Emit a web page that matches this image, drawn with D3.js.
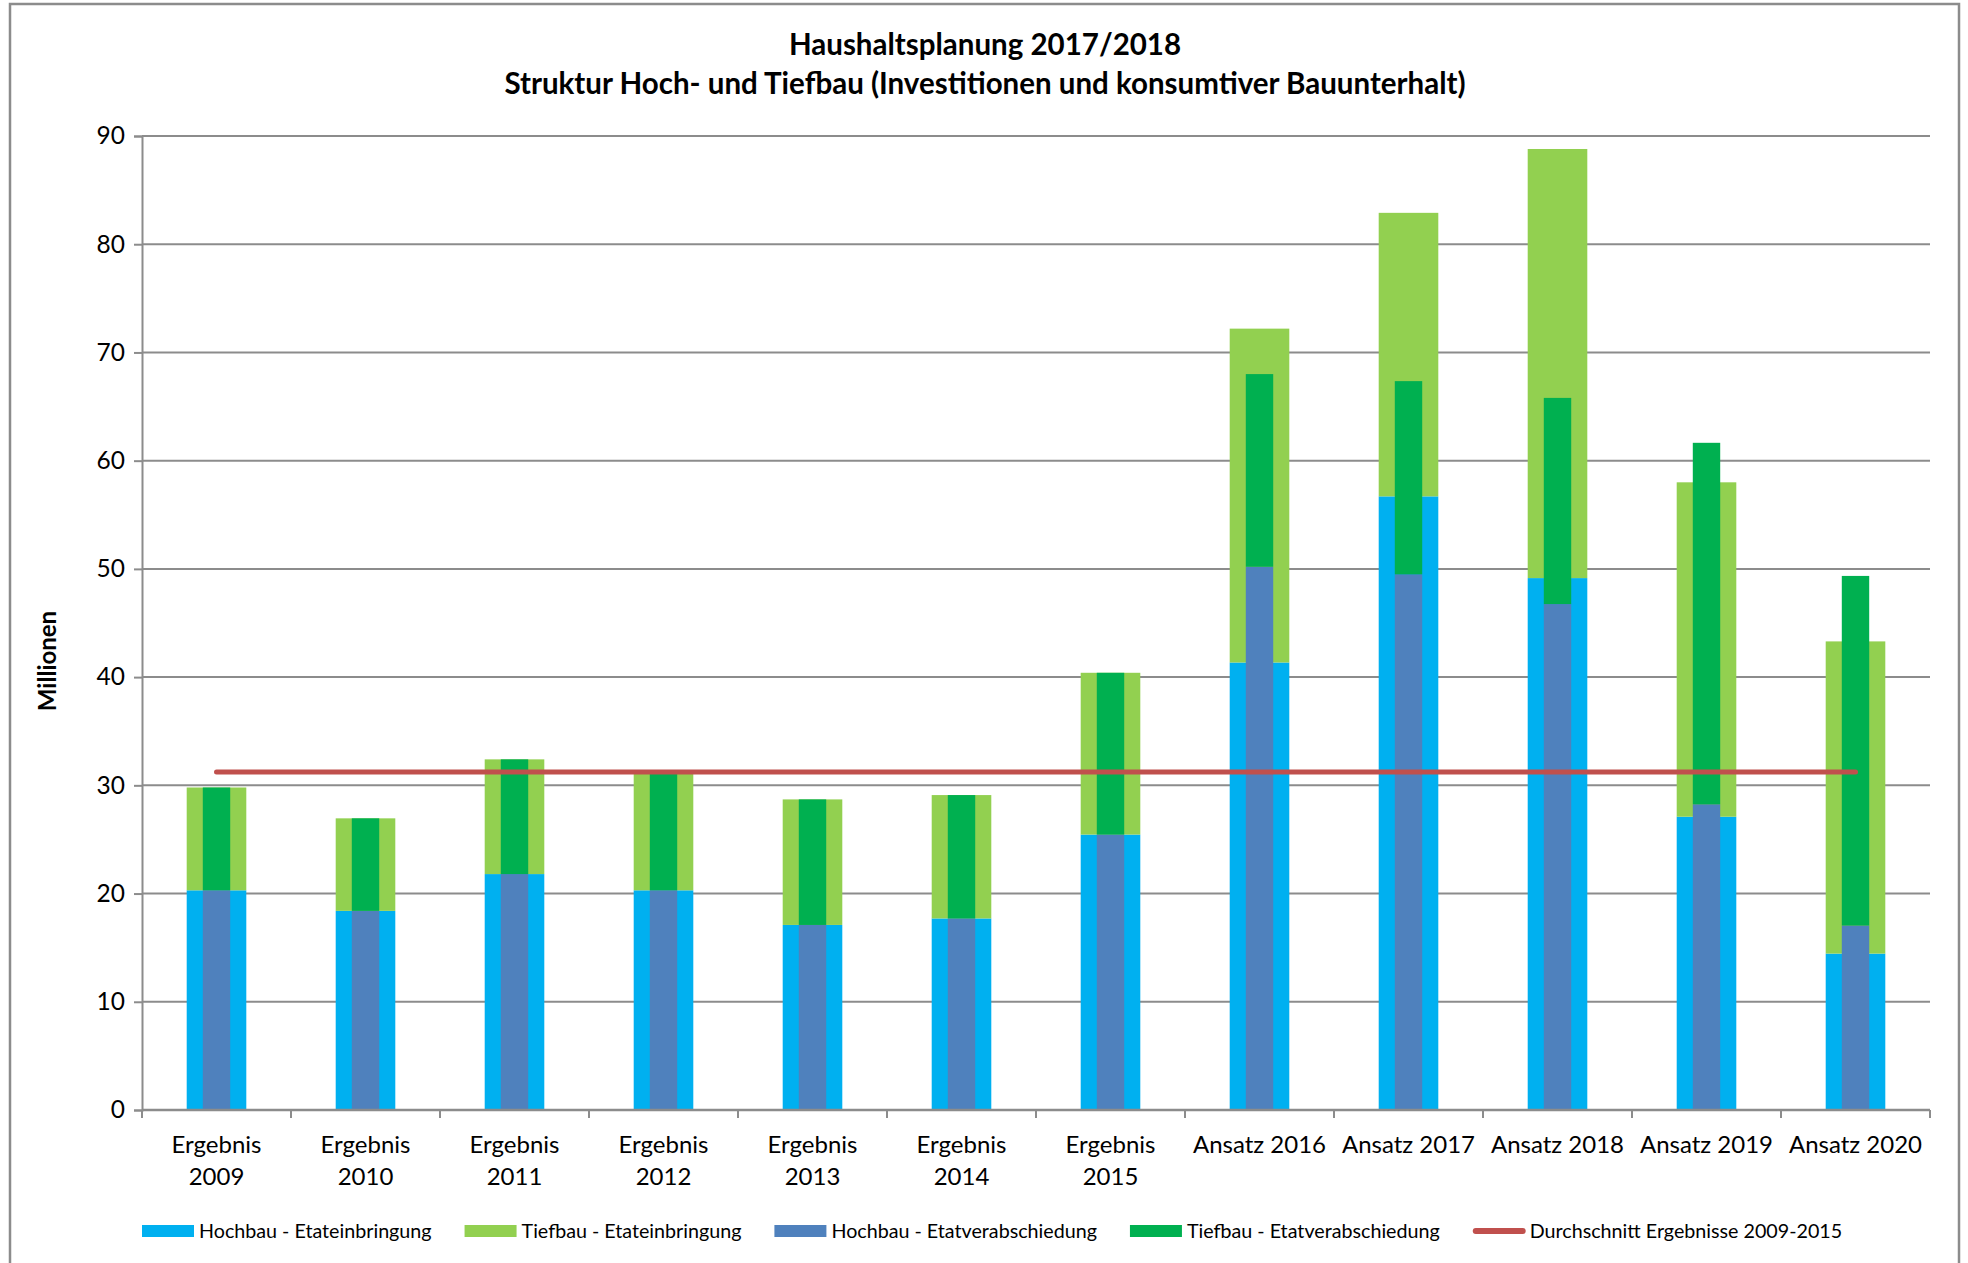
<!DOCTYPE html>
<html>
<head>
<meta charset="utf-8">
<script src="https://cdn.jsdelivr.net/npm/d3@7"></script>
<style>
  body { margin: 0; background: #fff; }
  svg { display: block; font-family: Lato, "Open Sans", sans-serif; }
</style>
</head>
<body>
<div id="chart"></div>
<script>
// categories (two-line labels use "\n")
const categories = ["Ergebnis\n2009", "Ergebnis\n2010", "Ergebnis\n2011", "Ergebnis\n2012",
  "Ergebnis\n2013", "Ergebnis\n2014", "Ergebnis\n2015", "Ansatz 2016", "Ansatz 2017",
  "Ansatz 2018", "Ansatz 2019", "Ansatz 2020"];

// Millionen
const hochbauEinbringung = [20.3, 18.4, 21.8, 20.3, 17.1, 17.7, 25.45, 41.35, 56.7, 49.15, 27.1, 14.45];
const tiefbauEinbringung = [9.5, 8.55, 10.6, 10.8, 11.6, 11.4, 14.95, 30.85, 26.2, 39.65, 30.9, 28.85];
const hochbauVerabschiedung = [20.3, 18.4, 21.8, 20.3, 17.1, 17.7, 25.45, 50.2, 49.5, 46.75, 28.25, 17.05];
const tiefbauVerabschiedung = [9.5, 8.55, 10.6, 10.8, 11.6, 11.4, 14.95, 17.8, 17.85, 19.05, 33.4, 32.3];
const durchschnitt = 31.23;

const yTicks = [0, 10, 20, 30, 40, 50, 60, 70, 80, 90];
const legendLabels = ["Hochbau - Etateinbringung", "Tiefbau - Etateinbringung",
  "Hochbau - Etatverabschiedung", "Tiefbau - Etatverabschiedung", "Durchschnitt Ergebnisse 2009-2015"];
const colors = ["#00B0F0", "#92D050", "#4F81BD", "#00B050", "#C0504D"];

const width = 1968, height = 1263;
const svg = d3.select("#chart").append("svg")
    .attr("width", width)
    .attr("height", height);

// outer frame
svg.append("rect")
    .attr("x", 10).attr("y", 4)
    .attr("width", 1949).attr("height", 1280)
    .attr("fill", "none")
    .attr("stroke", "#8c8c8c")
    .attr("stroke-width", 2.5);

// title
const title = svg.append("g").attr("font-weight", "bold").attr("font-size", 29.5).attr("text-anchor", "middle").attr("fill", "#000");
title.append("text").attr("x", 985).attr("y", 55).text("Haushaltsplanung 2017/2018");
title.append("text").attr("x", 985).attr("y", 94).text("Struktur Hoch- und Tiefbau (Investitionen und konsumtiver Bauunterhalt)");

const x = d3.scaleBand().domain(categories).range([142, 1930]);
const y = d3.scaleLinear().domain([0, 90]).range([1110, 136]);

// gridlines
svg.append("g")
    .selectAll("line")
    .data(yTicks.filter(d => d > 0))
    .enter()
    .append("line")
    .attr("x1", 142).attr("x2", 1930)
    .attr("y1", d => y(d)).attr("y2", d => y(d))
    .attr("stroke", "#8c8c8c")
    .attr("stroke-width", 2);

// y axis
const yAxis = svg.append("g")
    .attr("transform", "translate(142,0)")
    .call(d3.axisLeft(y).tickValues(yTicks).tickSize(8).tickPadding(9));
yAxis.select(".domain").attr("stroke", "#8c8c8c").attr("stroke-width", 2);
yAxis.selectAll(".tick line").attr("stroke", "#8c8c8c").attr("stroke-width", 2);
yAxis.selectAll(".tick text").attr("font-size", 24.5).attr("font-family", "Lato").attr("fill", "#000");

svg.append("text")
    .attr("transform", "translate(56,661) rotate(-90)")
    .attr("text-anchor", "middle")
    .attr("font-weight", "bold")
    .attr("font-size", 24)
    .text("Millionen");

// stacked bars
const rows = categories.map((c, i) => ({
  cat: c,
  hE: hochbauEinbringung[i], tE: tiefbauEinbringung[i],
  hV: hochbauVerabschiedung[i], tV: tiefbauVerabschiedung[i]
}));
const stackE = d3.stack().keys(["hE", "tE"])(rows);
const stackV = d3.stack().keys(["hV", "tV"])(rows);

function drawStack(series, frac, cols) {
  const w = x.bandwidth() * frac;
  svg.append("g")
      .selectAll("g")
      .data(series)
      .enter()
      .append("g")
      .attr("fill", (d, i) => cols[i])
      .selectAll("rect")
      .data(d => d)
      .enter()
      .append("rect")
      .attr("x", d => x(d.data.cat) + (x.bandwidth() - w) / 2)
      .attr("width", w)
      .attr("y", d => y(d[1]))
      .attr("height", d => y(d[0]) - y(d[1]));
}
drawStack(stackE, 0.4, [colors[0], colors[1]]);
drawStack(stackV, 0.184, [colors[2], colors[3]]);

// x axis
const xAxis = svg.append("g")
    .attr("transform", "translate(0,1110)");
xAxis.append("line")
    .attr("x1", 142).attr("x2", 1930)
    .attr("stroke", "#8c8c8c").attr("stroke-width", 2.5);
xAxis.selectAll(".tk")
    .data(d3.range(categories.length + 1))
    .enter()
    .append("line")
    .attr("x1", i => 142 + i * x.step()).attr("x2", i => 142 + i * x.step())
    .attr("y1", 0).attr("y2", 8)
    .attr("stroke", "#8c8c8c").attr("stroke-width", 2);
const lbl = xAxis.selectAll(".lbl")
    .data(categories)
    .enter()
    .append("text")
    .attr("text-anchor", "middle")
    .attr("font-size", 24)
    .attr("x", d => x(d) + x.bandwidth() / 2);
lbl.selectAll("tspan")
    .data(d => d.split("\n"))
    .enter()
    .append("tspan")
    .attr("x", function () { return d3.select(this.parentNode).attr("x"); })
    .attr("y", (d, i) => 43 + i * 32)
    .text(d => d);

// average line
svg.append("line")
    .attr("x1", x(categories[0]) + x.bandwidth() / 2)
    .attr("x2", x(categories[categories.length - 1]) + x.bandwidth() / 2)
    .attr("y1", y(durchschnitt)).attr("y2", y(durchschnitt))
    .attr("stroke", colors[4])
    .attr("stroke-width", 5)
    .attr("stroke-linecap", "round");

// legend
const legend = svg.append("g").attr("font-size", 19.7);
let lx = 142;
legendLabels.forEach((name, i) => {
  const g = legend.append("g").attr("transform", `translate(${lx},1231)`);
  if (i < 4) {
    g.append("rect").attr("x", 0).attr("y", -6).attr("width", 52).attr("height", 12).attr("fill", colors[i]);
  } else {
    g.append("line").attr("x1", 3).attr("x2", 50).attr("y1", 0).attr("y2", 0)
        .attr("stroke", colors[i]).attr("stroke-width", 6).attr("stroke-linecap", "round");
  }
  const t = g.append("text").attr("x", 57).attr("y", 7).text(name);
  lx += 57 + t.node().getComputedTextLength() + 33;
});
</script>
</body>
</html>
